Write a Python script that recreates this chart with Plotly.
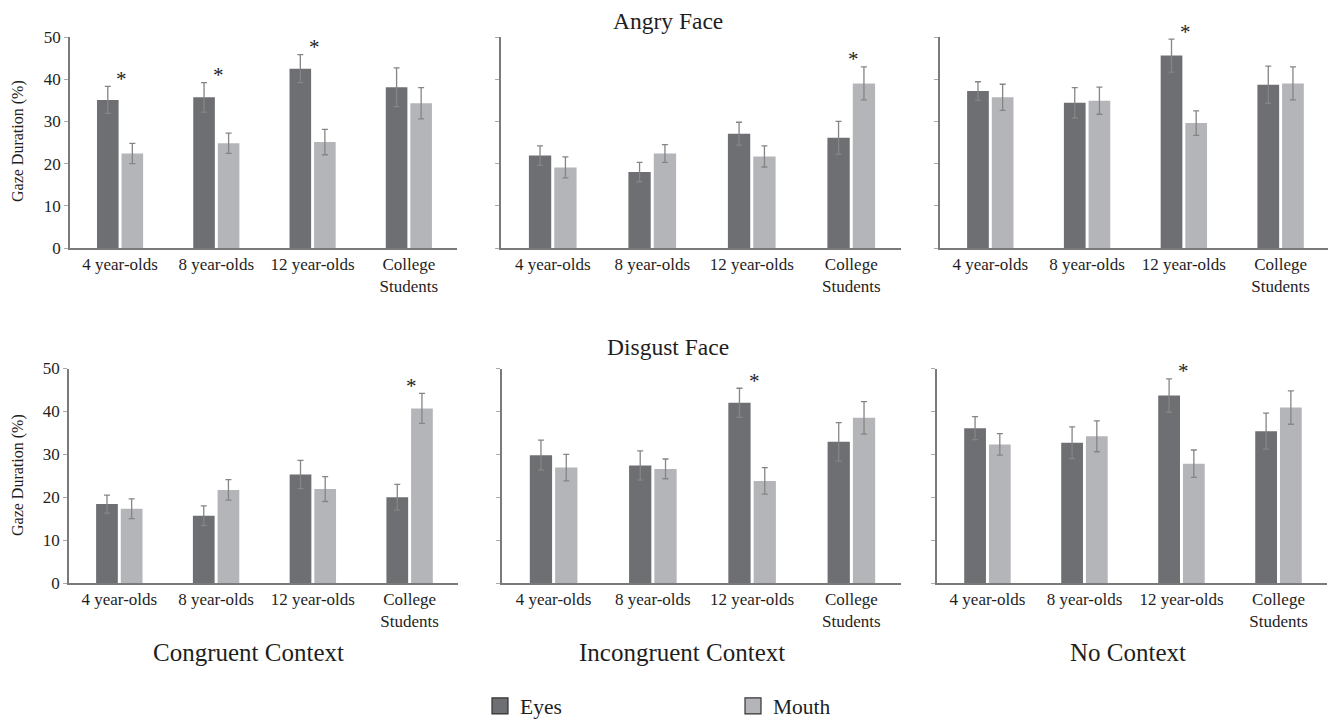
import plotly.graph_objects as go

# ---------------- data ----------------
categories = ["4 year-olds", "8 year-olds", "12 year-olds", "College<br>Students"]
series_names = ["Eyes", "Mouth"]
face_titles = ["Angry Face", "Disgust Face"]
context_titles = ["Congruent Context", "Incongruent Context", "No Context"]
y_title = "Gaze Duration (%)"
y_ticks = [0, 10, 20, 30, 40, 50]

angry_congruent_eyes = [35.1, 35.7, 42.5, 38.1]
angry_congruent_eyes_err = [3.2, 3.5, 3.3, 4.6]
angry_congruent_mouth = [22.4, 24.8, 25.1, 34.3]
angry_congruent_mouth_err = [2.4, 2.4, 3.0, 3.7]
angry_congruent_sig = [0, 1, 2]

angry_incongruent_eyes = [21.9, 18.0, 27.1, 26.1]
angry_incongruent_eyes_err = [2.3, 2.3, 2.7, 3.9]
angry_incongruent_mouth = [19.1, 22.4, 21.7, 39.0]
angry_incongruent_mouth_err = [2.5, 2.1, 2.5, 3.9]
angry_incongruent_sig = [3]

angry_none_eyes = [37.2, 34.4, 45.6, 38.7]
angry_none_eyes_err = [2.2, 3.6, 3.9, 4.4]
angry_none_mouth = [35.7, 34.9, 29.6, 39.0]
angry_none_mouth_err = [3.1, 3.2, 2.9, 3.9]
angry_none_sig = [2]

disgust_congruent_eyes = [18.4, 15.7, 25.3, 20.0]
disgust_congruent_eyes_err = [2.1, 2.3, 3.3, 3.0]
disgust_congruent_mouth = [17.3, 21.7, 21.9, 40.7]
disgust_congruent_mouth_err = [2.3, 2.4, 2.9, 3.5]
disgust_congruent_sig = [3]

disgust_incongruent_eyes = [29.8, 27.4, 42.0, 32.9]
disgust_incongruent_eyes_err = [3.5, 3.4, 3.4, 4.5]
disgust_incongruent_mouth = [26.9, 26.6, 23.8, 38.5]
disgust_incongruent_mouth_err = [3.1, 2.3, 3.1, 3.8]
disgust_incongruent_sig = [2]

disgust_none_eyes = [36.1, 32.7, 43.7, 35.4]
disgust_none_eyes_err = [2.7, 3.7, 3.9, 4.2]
disgust_none_mouth = [32.3, 34.2, 27.8, 40.9]
disgust_none_mouth_err = [2.5, 3.6, 3.2, 3.9]
disgust_none_sig = [2]

panels = [
    (angry_congruent_eyes, angry_congruent_eyes_err, angry_congruent_mouth, angry_congruent_mouth_err, angry_congruent_sig),
    (angry_incongruent_eyes, angry_incongruent_eyes_err, angry_incongruent_mouth, angry_incongruent_mouth_err, angry_incongruent_sig),
    (angry_none_eyes, angry_none_eyes_err, angry_none_mouth, angry_none_mouth_err, angry_none_sig),
    (disgust_congruent_eyes, disgust_congruent_eyes_err, disgust_congruent_mouth, disgust_congruent_mouth_err, disgust_congruent_sig),
    (disgust_incongruent_eyes, disgust_incongruent_eyes_err, disgust_incongruent_mouth, disgust_incongruent_mouth_err, disgust_incongruent_sig),
    (disgust_none_eyes, disgust_none_eyes_err, disgust_none_mouth, disgust_none_mouth_err, disgust_none_sig),
]

# ---------------- style / layout ----------------
WIN_W, WIN_H = 1336, 723
BODY = 8                      # default page body margin
W, H = WIN_W - BODY, WIN_H - BODY


def px(xp):
    return (xp - BODY) / W


def py(yp):
    return 1 - (yp - BODY) / H


EYES_C = "#6e6f73"
MOUTH_C = "#b4b5b9"
ERR_C = "#858585"
AXIS_C = "#7a7a7a"
TEXT_C = "#1e1e1e"
FONT = "Liberation Serif, Times New Roman, serif"

# panel pixel extents (left, right) of x-axis and (y at 0, y at 50), window pixels
x_px = [(70, 457), (501, 901), (940, 1329), (69, 458), (502, 901), (937, 1327)]
y_px = [(248, 37), (248, 37), (248, 37), (583, 368.5), (583, 368.5), (583, 368.5)]
Y_MAX = 50

xpos = list(range(len(categories)))

fig = go.Figure()
for i, (e, ee, m, me, sig) in enumerate(panels):
    n = i + 1
    sfx = "" if n == 1 else str(n)
    xa, ya = "x" + sfx, "y" + sfx
    fig.add_trace(go.Bar(
        x=xpos, y=e, name=series_names[0], xaxis=xa, yaxis=ya, showlegend=False,
        marker=dict(color=EYES_C, line=dict(width=0)),
        error_y=dict(type="data", array=ee, color=ERR_C, thickness=1.3, width=3),
    ))
    fig.add_trace(go.Bar(
        x=xpos, y=m, name=series_names[1], xaxis=xa, yaxis=ya, showlegend=False,
        marker=dict(color=MOUTH_C, line=dict(width=0)),
        error_y=dict(type="data", array=me, color=ERR_C, thickness=1.3, width=3),
    ))
    for k in sig:
        top = max(e[k] + ee[k], m[k] + me[k])
        fig.add_annotation(x=k + 0.02, y=(top + 1.8) / Y_MAX, xref=xa, yref=ya + " domain",
                           text="*", showarrow=False, xanchor="center", yanchor="middle",
                           font=dict(size=21, color=TEXT_C, family=FONT))

    xl, xr = x_px[i]
    y0, y50 = y_px[i]
    col = i % 3
    fig.layout["xaxis" + sfx] = dict(
        domain=[px(xl), px(xr)], range=[-0.52, 3.5], anchor=ya, automargin=False,
        tickmode="array", tickvals=xpos, ticktext=categories,
        showline=True, linecolor=AXIS_C, linewidth=1.5, ticks="",
        showgrid=False, zeroline=False,
        tickfont=dict(size=17, color=TEXT_C, family=FONT),
    )
    fig.layout["yaxis" + sfx] = dict(
        domain=[py(y0), py(y50)], range=[0, Y_MAX], anchor=xa, automargin=False,
        tickmode="array", tickvals=y_ticks, showticklabels=(col == 0),
        ticks="outside", ticklen=4, tickcolor="#aaaaaa", tickwidth=1,
        showline=True, linecolor=AXIS_C, linewidth=1.5,
        showgrid=False, zeroline=False,
        tickfont=dict(size=17, color=TEXT_C, family=FONT),
    )

# y-axis titles for the left column
for yc in [141, 475]:
    fig.add_annotation(x=px(18), y=py(yc), xref="paper", yref="paper", text=y_title,
                       textangle=-90, showarrow=False, xanchor="center", yanchor="middle",
                       font=dict(size=16, color=TEXT_C, family=FONT))

# legend entries
fig.add_trace(go.Scatter(x=[None], y=[None], mode="markers", name=series_names[0],
                         marker=dict(symbol="square", size=16, color=EYES_C,
                                     line=dict(color="#333333", width=1.2))))
fig.add_trace(go.Scatter(x=[None], y=[None], mode="markers", name=series_names[1],
                         marker=dict(symbol="square", size=16, color=MOUTH_C,
                                     line=dict(color="#333333", width=1.2))))

# face titles
for yc, t in zip([21, 347], face_titles):
    fig.add_annotation(x=px(668), y=py(yc), xref="paper", yref="paper", text=t,
                       showarrow=False, xanchor="center", yanchor="middle",
                       font=dict(size=23.5, color=TEXT_C, family=FONT))
for cx, t in zip([248, 682, 1128], context_titles):
    fig.add_annotation(x=px(cx), y=py(652), xref="paper", yref="paper", text=t,
                       showarrow=False, xanchor="center", yanchor="middle",
                       font=dict(size=25, color=TEXT_C, family=FONT))

fig.update_layout(
    width=W, height=H, autosize=False,
    margin=dict(l=0, r=0, t=0, b=0, autoexpand=False),
    paper_bgcolor="white", plot_bgcolor="white",
    barmode="group", bargap=0.49, bargroupgap=0.12,
    font=dict(family=FONT, color=TEXT_C),
    legend=dict(orientation="h", x=px(480), xanchor="left", y=py(706), yanchor="middle",
                entrywidth=208, entrywidthmode="pixels",
                font=dict(size=21.5, color=TEXT_C, family=FONT),
                bgcolor="rgba(0,0,0,0)"),
)

fig.write_html("out.html")
